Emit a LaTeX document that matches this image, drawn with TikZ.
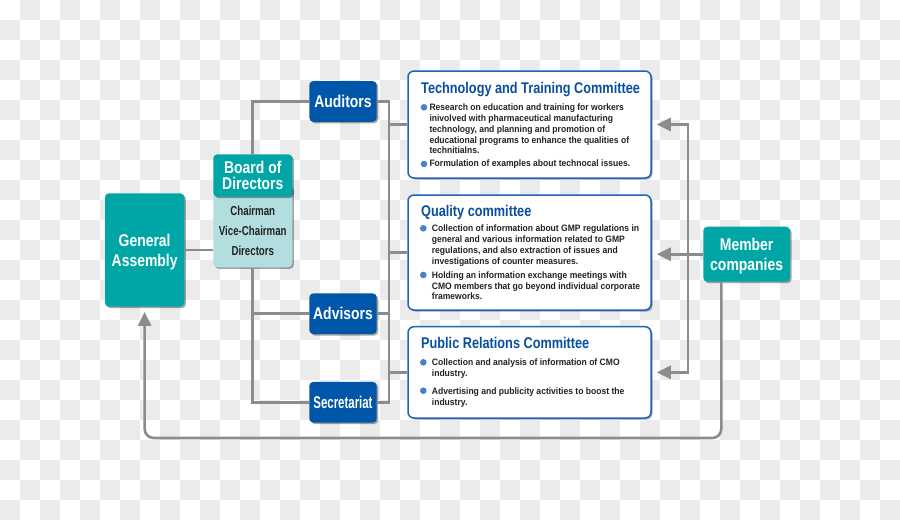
\documentclass[tikz,border=0pt]{standalone}
\usepackage{fontspec}
\usepackage{graphicx}
\setmainfont{Liberation Sans}[FakeStretch=0.82]
\newfontfamily\bulletfam{Liberation Sans}[FakeStretch=0.92]
\usetikzlibrary{arrows.meta,shadows}
\definecolor{tealA}{RGB}{0,166,166}
\definecolor{tealL}{RGB}{178,222,224}
\definecolor{blueA}{RGB}{0,86,168}
\definecolor{titleblue}{RGB}{10,78,160}
\definecolor{frameblue}{RGB}{30,100,185}
\definecolor{dotblue}{RGB}{74,128,200}
\definecolor{linegray}{RGB}{140,140,140}
\definecolor{checkgray}{RGB}{235,235,235}
\definecolor{ink}{RGB}{34,34,34}
\begin{document}
\begin{tikzpicture}[x=1pt,y=-1pt,
  shad/.style={drop shadow={shadow xshift=1.5pt,shadow yshift=-1.5pt,opacity=0.35,fill=black}},
  box/.style={rounded corners=4pt, inner sep=0pt, shad},
  bigtext/.style={text=white, align=center, font=\bfseries\fontsize{17}{20}\selectfont},
  tbox/.style={box, fill=tealA, bigtext},
  bbox/.style={box, fill=blueA, bigtext, minimum width=67.4pt, minimum height=40.7pt},
  cbox/.style={rounded corners=6pt, draw=frameblue, line width=1.5pt, fill=white, minimum width=243pt, inner sep=0pt, shad},
  ctitle/.style={anchor=base west, inner sep=0pt, text=titleblue, font=\bfseries\fontsize{15.5}{18}\selectfont},
  bl/.style={anchor=base west, inner sep=0pt, text=ink, font=\bulletfam\bfseries\fontsize{9.3}{11}\selectfont},
  dot/.style={circle, fill=dotblue, inner sep=0pt, minimum size=6.6pt},
  conn/.style={draw=linegray, line width=2.6pt},
  arrowed/.style={-{Triangle[length=14pt,width=13pt]}, shorten >=5pt}
]
\useasboundingbox (0,0) rectangle (900,520);
% checkerboard background
\fill[white] (0,0) rectangle (900,520);
\foreach \j in {0,...,25}{
  \foreach \k in {0,...,21}{
    \pgfmathtruncatemacro\colidx{2*\k+mod(\j+1,2)}
    \fill[checkgray] ({\colidx*20},{\j*20}) rectangle +(20,20);
  }
}
\foreach \j in {1,3,...,25}{
  \fill[checkgray] (880,{\j*20}) rectangle +(20,20);
}

% left part
\node[tbox, text depth=0pt, minimum width=79.3pt, minimum height=113.4pt] (ga) at (144.65,250) {General\\Assembly};
\node[box, fill=tealL, minimum width=79pt, minimum height=82.3pt] (bodl) at (252.8,226.15) {};
\node[tbox, minimum width=79pt, minimum height=42.4pt, font=\bfseries\fontsize{17}{16.7}\selectfont] (bod) at (252.8,175.5) {Board of\\Directors};
\node[align=center, inner sep=0pt, text=ink, font=\bfseries\fontsize{13}{20}\selectfont] (roles) at (252.8,231)
  {\scalebox{0.91}[1]{Chairman}\\\scalebox{0.91}[1]{Vice-Chairman}\\\scalebox{0.91}[1]{Directors}};

\node[bbox] (aud) at (343,101.4) {Auditors};
\node[bbox] (adv) at (343,313.7) {Advisors};
\node[bbox] (sec) at (343,402.2) {\scalebox{0.82}[1]{Secretariat}};

% committees
\node[cbox, minimum height=107pt] (ttc) at (529.5,124.5) {};
\node[cbox, minimum height=115pt] (qc) at (529.5,252.5) {};
\node[cbox, minimum height=91.3pt] (prc) at (529.5,372.35) {};

\node[ctitle] (ttcT) at (421,93.3) {Technology and Training Committee};
\node[dot] (ttcD1) at (424,107.3) {};
\foreach \t [count=\k from 0] in {Research on education and training for workers,
  inivolved with pharmaceutical manufacturing,
  {technology, and planning and promotion of},
  educational programs to enhance the qualities of,
  technitialns.}
  \node[bl] (ttcA\k) at (429.3,{110.7+10.8*\k}) {\t};
\node[dot] (ttcD2) at (424,164) {};
\node[bl] (ttcB0) at (429.3,166.7) {Formulation of examples about technocal issues.};

\node[ctitle] (qcT) at (421,216.7) {Quality committee};
\node[dot] (qcD1) at (423.3,228.3) {};
\foreach \t [count=\k from 0] in {Collection of information about GMP regulations in,
  general and various information related to GMP,
  {regulations, and also extraction of issues and},
  investigations of counter measures.}
  \node[bl] (qcA\k) at (431.7,{231.7+10.8*\k}) {\t};
\node[dot] (qcD2) at (423.3,275) {};
\foreach \t [count=\k from 0] in {Holding an information exchange meetings with,
  CMO members that go beyond individual corporate,
  frameworks.}
  \node[bl] (qcB\k) at (431.7,{278.3+10.8*\k}) {\t};

\node[ctitle] (prcT) at (421,348.3) {Public Relations Committee};
\node[dot] (prcD1) at (423.3,362.3) {};
\node[bl] (prcA0) at (431.7,365.7) {Collection and analysis of information of CMO};
\node[bl] (prcA1) at (431.7,376.7) {industry.};
\node[dot] (prcD2) at (423.3,390.7) {};
\node[bl] (prcB0) at (431.7,394) {Advertising and publicity activities to boost the};
\node[bl] (prcB1) at (431.7,405) {industry.};

\node[tbox, text depth=0pt, minimum width=86.7pt, minimum height=55pt] (mc) at (746.65,254.2) {Member\\companies};

% connectors
\coordinate (busL) at (252.5,250);
\coordinate (busR) at (389,250);
\coordinate (mbus) at (688,254.2);
\coordinate (loopc) at (721.3,438);
\draw[conn] (ga.east) -- (ga.east -| bodl.west);
\draw[conn] (aud.west) -| (bod.north -| busL);
\draw[conn] (bodl.south -| busL) |- (sec.west);
\draw[conn] (adv.west) -- (adv.west -| busL);
\draw[conn] (aud.east) -| (busR) |- (sec.east);
\draw[conn] (adv.east) -- (adv.east -| busR);
\draw[conn] (ttc.west -| busR) -- (ttc.west);
\draw[conn] (qc.west -| busR) -- (qc.west);
\draw[conn] (prc.west -| busR) -- (prc.west);
\draw[conn,arrowed] (mc.west) -- (mc.west -| qc.east);
\draw[conn,arrowed] (mbus) |- (ttc.east);
\draw[conn,arrowed] (mbus) |- (prc.east);
\draw[conn,arrowed,rounded corners=9pt] (mc.south -| loopc) -- (loopc) -| (ga.south);
\end{tikzpicture}
\end{document}
